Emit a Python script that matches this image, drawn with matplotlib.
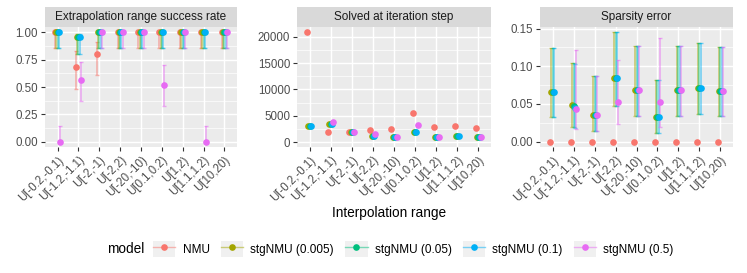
import matplotlib

matplotlib.use("Agg")

import matplotlib.pyplot as plt
import numpy as np
from matplotlib.lines import Line2D
from matplotlib.patches import Rectangle
from matplotlib.legend_handler import HandlerTuple
from matplotlib.ticker import FixedLocator

plt.rcParams["font.family"] = ["Liberation Sans", "DejaVu Sans"]

categories = ["U[-0.2,-0.1)", "U[-1.2,-1.1)", "U[-2,-1)", "U[-2,2)", "U[-20,-10)",
              "U[0.1,0.2)", "U[1,2)", "U[1.1,1.2)", "U[10,20)"]
models = ["NMU", "stgNMU (0.005)", "stgNMU (0.05)", "stgNMU (0.1)", "stgNMU (0.5)"]
colors = ["#F8766D", "#A3A500", "#00BF7D", "#00B0F6", "#E76BF3"]
nan = np.nan

# rows follow the order of `models`
success_mean = [
    [1.00, 0.68, 0.80, 1.00, 1.00, 1.00, 1.00, 1.00, 1.00],
    [1.00, 0.96, 1.00, 1.00, 1.00, 1.00, 1.00, 1.00, 1.00],
    [1.00, 0.96, 1.00, 1.00, 1.00, 1.00, 1.00, 1.00, 1.00],
    [1.00, 0.96, 1.00, 1.00, 1.00, 1.00, 1.00, 1.00, 1.00],
    [0.00, 0.56, 1.00, 1.00, 1.00, 0.52, 1.00, 0.00, 1.00],
]
success_lo = [
    [0.86, 0.48, 0.61, 0.86, 0.86, 0.86, 0.86, 0.86, 0.86],
    [0.86, 0.80, 0.86, 0.86, 0.86, 0.86, 0.86, 0.86, 0.86],
    [0.86, 0.80, 0.86, 0.86, 0.86, 0.86, 0.86, 0.86, 0.86],
    [0.86, 0.80, 0.86, 0.86, 0.86, 0.86, 0.86, 0.86, 0.86],
    [0.00, 0.37, 0.86, 0.86, 0.86, 0.33, 0.86, 0.00, 0.86],
]
success_hi = [
    [1.00, 0.83, 0.91, 1.00, 1.00, 1.00, 1.00, 1.00, 1.00],
    [1.00, 0.99, 1.00, 1.00, 1.00, 1.00, 1.00, 1.00, 1.00],
    [1.00, 0.99, 1.00, 1.00, 1.00, 1.00, 1.00, 1.00, 1.00],
    [1.00, 0.99, 1.00, 1.00, 1.00, 1.00, 1.00, 1.00, 1.00],
    [0.14, 0.73, 1.00, 1.00, 1.00, 0.70, 1.00, 0.14, 1.00],
]

iteration_step = [
    [21000, 2000, 2000, 2350, 2430, 5500, 2800, 3000, 2600],
    [3000, 3400, 2000, 1100, 1000, 2000, 1000, 1100, 1000],
    [3000, 3400, 2000, 1100, 1000, 2000, 1000, 1100, 1000],
    [3000, 3400, 2000, 1100, 1000, 2000, 1000, 1150, 1000],
    [nan, 3850, 2000, 1600, 1000, 3300, 1000, nan, 1000],
]

sparsity_mean = [
    [0.0, 0.0, 0.0, 0.0, 0.0, 0.0, 0.0, 0.0, 0.0],
    [0.066, 0.049, 0.035, 0.085, 0.068, 0.032, 0.068, 0.071, 0.067],
    [0.066, 0.047, 0.035, 0.085, 0.068, 0.032, 0.068, 0.071, 0.067],
    [0.066, 0.045, 0.035, 0.085, 0.068, 0.032, 0.068, 0.071, 0.067],
    [nan, 0.043, 0.035, 0.052, 0.068, 0.053, 0.068, nan, 0.067],
]
sparsity_lo = [
    [0.0, 0.0, 0.0, 0.0, 0.0, 0.0, 0.0, 0.0, 0.0],
    [0.033, 0.020, 0.014, 0.047, 0.034, 0.012, 0.034, 0.037, 0.034],
    [0.033, 0.019, 0.014, 0.047, 0.034, 0.012, 0.034, 0.037, 0.034],
    [0.033, 0.018, 0.014, 0.047, 0.034, 0.012, 0.034, 0.037, 0.034],
    [nan, 0.017, 0.014, 0.023, 0.034, 0.020, 0.034, nan, 0.034],
]
sparsity_hi = [
    [0.0, 0.0, 0.0, 0.0, 0.0, 0.0, 0.0, 0.0, 0.0],
    [0.124, 0.105, 0.087, 0.145, 0.127, 0.082, 0.127, 0.131, 0.126],
    [0.124, 0.104, 0.087, 0.145, 0.127, 0.082, 0.127, 0.131, 0.126],
    [0.124, 0.103, 0.087, 0.145, 0.127, 0.082, 0.127, 0.131, 0.126],
    [nan, 0.122, 0.087, 0.109, 0.127, 0.138, 0.127, nan, 0.126],
]

W, H = 747, 273
PANEL_BG = "#EBEBEB"
TICK_TEXT = "#4D4D4D"
DODGE = 0.3


def px_axes(fig, left, top, right, bottom):
    return fig.add_axes([left / W, 1 - bottom / H, (right - left) / W, (bottom - top) / H])


def draw_panel(ax, mean, lo, hi, ylim, major, minor, fmt):
    x = np.arange(1, len(categories) + 1)
    n = len(models)
    offsets = [(i - (n - 1) / 2) * DODGE / n for i in range(n)]
    if lo is not None:
        for i in range(n):
            m = np.array(mean[i], dtype=float)
            yerr = [m - np.array(lo[i]), np.array(hi[i]) - m]
            ax.errorbar(x + offsets[i], m, yerr=yerr, fmt="none", ecolor=colors[i],
                        elinewidth=1.1, capsize=1.6, capthick=1.0, alpha=0.55, zorder=2)
    for i in range(n):
        ax.plot(x + offsets[i], mean[i], "o", color=colors[i], ms=4.8, mec="none", zorder=3)

    ax.set_facecolor(PANEL_BG)
    for s in ax.spines.values():
        s.set_visible(False)
    ax.set_xlim(0.4, len(categories) + 0.6)
    ax.set_ylim(*ylim)
    ax.set_xticks(x)
    ax.set_xticklabels(categories, rotation=45, ha="right", va="top", rotation_mode="anchor")
    ax.set_yticks(major)
    ax.set_yticklabels([fmt(v) for v in major])
    ax.yaxis.set_minor_locator(FixedLocator(minor))
    ax.grid(True, which="major", color="white", linewidth=1.05, zorder=0)
    ax.grid(True, which="minor", axis="y", color="white", linewidth=0.5, zorder=0)
    ax.set_axisbelow(True)
    ax.tick_params(which="major", length=2.8, width=0.8, color="#333333",
                   labelcolor=TICK_TEXT, labelsize=8.3, pad=2.2)
    ax.tick_params(which="minor", length=0)


def draw_strip(fig, left, right, title):
    sax = px_axes(fig, left, 7, right, 27)
    sax.set_facecolor("#D9D9D9")
    sax.set_xticks([])
    sax.set_yticks([])
    for s in sax.spines.values():
        s.set_visible(False)
    sax.text(0.5, 0.5, title, ha="center", va="center", fontsize=8.5, color="#1A1A1A",
             transform=sax.transAxes)


fig = plt.figure(figsize=(W / 100, H / 100), dpi=100)
fig.patch.set_facecolor("white")

panels = [(45, 237), (297, 491), (540, 733)]

ax1 = px_axes(fig, panels[0][0], 27, panels[0][1], 147)
draw_panel(ax1, success_mean, success_lo, success_hi, (-0.05, 1.05),
           [0, 0.25, 0.5, 0.75, 1.0], [0.125, 0.375, 0.625, 0.875], lambda v: f"{v:.2f}")
draw_strip(fig, *panels[0], "Extrapolation range success rate")

ax2 = px_axes(fig, panels[1][0], 27, panels[1][1], 147)
draw_panel(ax2, iteration_step, None, None, (-950, 21900),
           [0, 5000, 10000, 15000, 20000], [2500, 7500, 12500, 17500], lambda v: f"{int(v)}")
draw_strip(fig, *panels[1], "Solved at iteration step")

ax3 = px_axes(fig, panels[2][0], 27, panels[2][1], 147)
draw_panel(ax3, sparsity_mean, sparsity_lo, sparsity_hi, (-0.0072, 0.1522),
           [0, 0.05, 0.10, 0.15], [0.025, 0.075, 0.125], lambda v: f"{v:.2f}")
draw_strip(fig, *panels[2], "Sparsity error")

fig.text(389 / W, 1 - 213 / H, "Interpolation range", ha="center", va="center",
         fontsize=9.8, color="black")

# legend: title on the left, keys with grey background
fig.text(107 / W, 1 - 249 / H, "model", ha="left", va="center", fontsize=9.8, color="black")
handles = []
for c in colors:
    bg = Rectangle((0, 0), 1, 1, facecolor="#F0F0F0", edgecolor="none")
    ln = Line2D([], [], color=c, lw=1.0, alpha=0.5)
    pt = Line2D([], [], color=c, marker="o", ms=4.8, mec="none", lw=0)
    handles.append((bg, ln, pt))
fig.legend(handles, models, handler_map={tuple: HandlerTuple(ndivide=1, pad=0)},
           loc="center left", bbox_to_anchor=(153 / W, 1 - 249 / H), ncol=5, frameon=False,
           fontsize=8.5, handlelength=1.9, handleheight=1.75, handletextpad=0.6,
           columnspacing=0.95, borderpad=0, borderaxespad=0)

fig.savefig("out.png", dpi=100)
